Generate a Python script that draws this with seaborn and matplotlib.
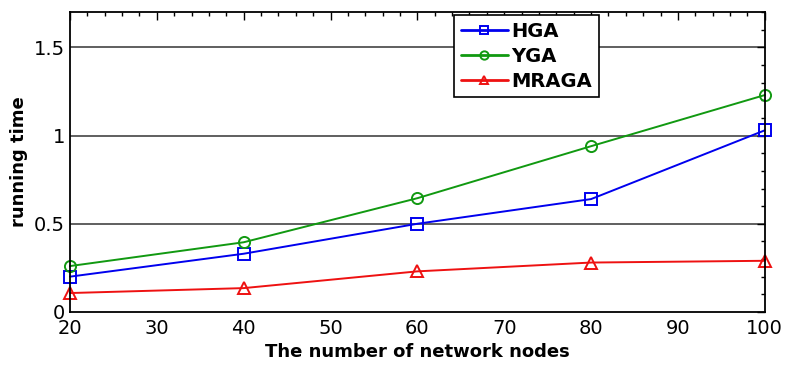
import matplotlib
matplotlib.use("Agg")
import matplotlib.pyplot as plt
import seaborn as sns
import pandas as pd
from matplotlib.ticker import MultipleLocator

nodes = [20, 40, 60, 80, 100]
hga = [0.20, 0.33, 0.50, 0.64, 1.03]
yga = [0.26, 0.395, 0.645, 0.94, 1.23]
mraga = [0.107, 0.135, 0.23, 0.28, 0.29]
series_names = ["HGA", "YGA", "MRAGA"]

df = pd.DataFrame({
    "nodes": nodes * 3,
    "time": hga + yga + mraga,
    "alg": sum([[n] * len(nodes) for n in series_names], []),
})

sns.set_style("white")
plt.rcParams['font.family'] = ['DejaVu Sans']
plt.rcParams['text.color'] = 'black'
plt.rcParams['axes.labelcolor'] = 'black'
plt.rcParams['xtick.color'] = 'black'
plt.rcParams['ytick.color'] = 'black'

fig = plt.figure(figsize=(7.86, 3.70), dpi=100)
ax = fig.add_axes([0.089, 0.157, 0.884, 0.81])

palette = {"HGA": "#0000ee", "YGA": "#119911", "MRAGA": "#ee1111"}
markers = {"HGA": "s", "YGA": "o", "MRAGA": "^"}
sns.lineplot(data=df, x="nodes", y="time", hue="alg", style="alg",
             palette=palette, markers=markers, dashes=False,
             markersize=8, linewidth=1.4, ax=ax, clip_on=False)
for line in ax.lines:
    c = line.get_color()
    line.set_markerfacecolor("none")
    line.set_markeredgecolor(c)
    line.set_markeredgewidth(1.4)
    line.set_clip_on(False)

ax.set_xlim(20, 100)
ax.set_ylim(0, 1.7)
ax.xaxis.set_major_locator(MultipleLocator(10))
ax.xaxis.set_minor_locator(MultipleLocator(2))
ax.set_yticks([0, 0.5, 1, 1.5])
ax.set_yticklabels(["0", "0.5", "1", "1.5"])
ax.yaxis.set_minor_locator(MultipleLocator(0.1))
ax.tick_params(which="both", direction="in", top=True, right=True, labelsize=14, width=1)
ax.tick_params(which="major", length=6)
ax.tick_params(which="minor", length=3)
ax.tick_params(axis="x", pad=5)
for y in [0.5, 1, 1.5]:
    ax.axhline(y, color="#444444", lw=1.2, zorder=0)
for s in ax.spines.values():
    s.set_color("black")
    s.set_linewidth(1.3)

ax.set_xlabel("The number of network nodes", fontsize=13, fontweight="bold")
ax.set_ylabel("running time", fontsize=13, fontweight="bold")

handles, labels = ax.get_legend_handles_labels()
for h in handles:
    c = h.get_color()
    h.set_markerfacecolor("none")
    h.set_markeredgecolor(c)
    h.set_markeredgewidth(1.4)
    h.set_markersize(6)
    h.set_linewidth(2)
leg = ax.legend(handles, labels, loc="upper left", bbox_to_anchor=(0.553, 0.99),
                prop={"weight": "bold", "size": 14}, frameon=True,
                fancybox=False, edgecolor="black", handlelength=2.4,
                handletextpad=0.2, borderpad=0.35, labelspacing=0.3, title=None,
                borderaxespad=0.0, framealpha=1)
leg.get_frame().set_linewidth(1.2)
leg._legend_box.align = "left"

fig.savefig("out.png", dpi=100)
